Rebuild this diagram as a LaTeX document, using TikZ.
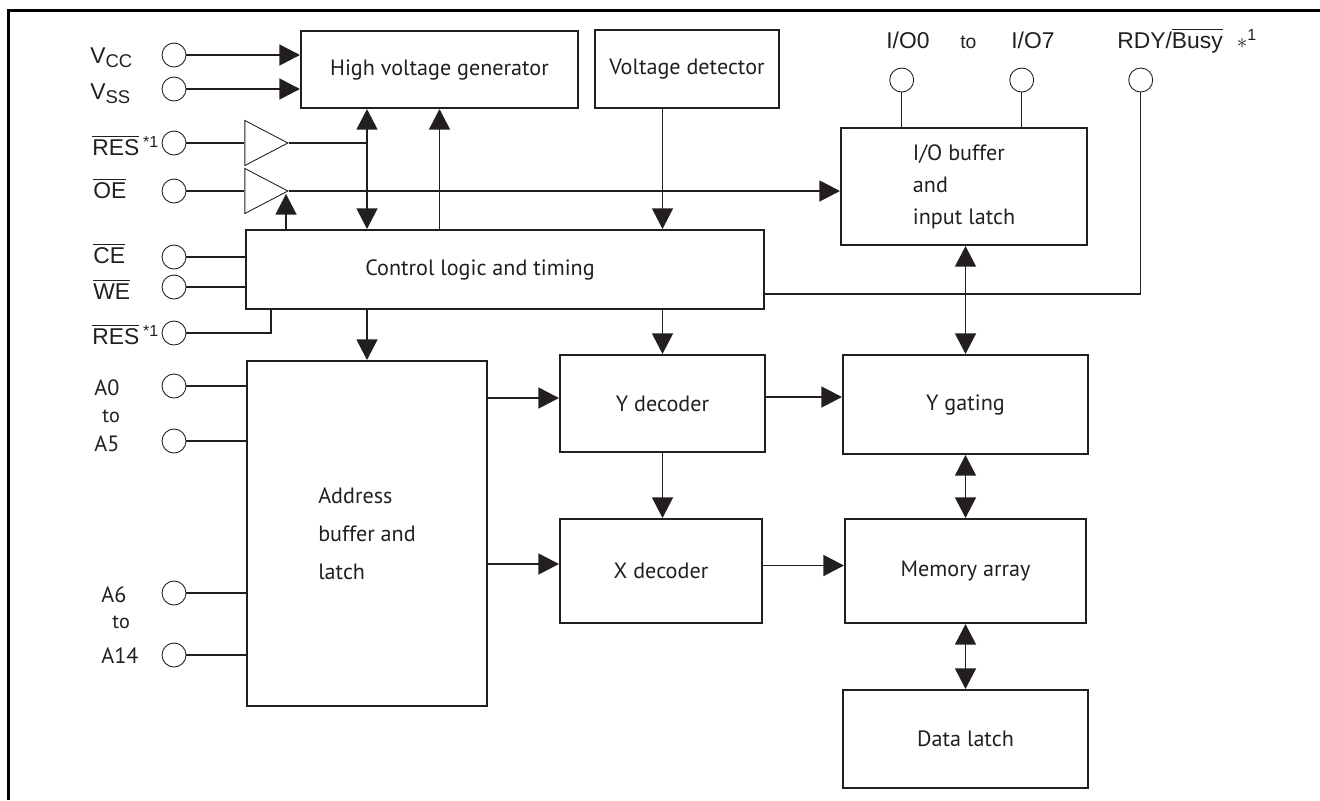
\documentclass[tikz,border=0pt]{standalone}
\usepackage{fontspec}
\setmainfont{PT Sans}
\newfontfamily\pinfont{Liberation Sans}
\usetikzlibrary{arrows.meta,shapes.geometric}
\definecolor{ink}{HTML}{231F20}
\newcommand{\barsig}[1]{$\overline{\mbox{#1}}$}
\newcommand{\lowsub}[1]{\raisebox{-2.8pt}{\fontsize{10.5}{12}\selectfont #1}}

\tikzset{
  blk/.style={draw=ink, line width=1.2pt, inner sep=0pt, text=ink,
    font=\fontsize{12.6}{15}\selectfont},
  pin/.style={draw=ink, circle, line width=0.5pt, minimum size=4.8mm, inner sep=0pt},
  buf/.style={draw=ink, isosceles triangle, isosceles triangle stretches,
    minimum width=9mm, minimum height=8.6mm, inner sep=0pt, line width=0.5pt},
  wire/.style={draw=ink, line width=0.7pt},
  pinlbl/.style={font=\pinfont\fontsize{13}{15}\selectfont, text=ink, inner sep=0pt},
  addrlbl/.style={font=\fontsize{12.6}{15}\selectfont, text=ink, inner sep=0pt},
}

\begin{document}
\begin{tikzpicture}[x=0.2mm, y=-0.2mm, >={Triangle[length=4.1mm,width=4.2mm]}]
  \useasboundingbox (0,0) rectangle (1320,800);
  \draw[line width=0.6mm] (1320,10) -- (8,10) -- (8,800);

  % blocks
  \node[blk, minimum width=55.4mm, minimum height=15.4mm] (hvg) at (439.5,69.5) {High voltage generator};
  \node[blk, minimum width=36.8mm, minimum height=15.6mm] (vdet) at (687,69) {Voltage detector};
  \node[blk, minimum width=49.2mm, minimum height=23.4mm, align=left,
    font=\fontsize{12.6}{18.2}\selectfont] (iobuf) at (964,186.5) {I/O buffer\\and\\input latch};
  \node[blk, minimum width=103.6mm, minimum height=15.8mm] (ctrl) at (505,269.5) {\hspace*{-10mm}Control logic and timing};
  \node[blk, minimum width=48mm, minimum height=69mm, align=left,
    font=\fontsize{12.6}{21.5}\selectfont] (addr) at (367,533.5) {Address\\buffer and\\latch};
  \node[blk, minimum width=41mm, minimum height=19.4mm] (ydec) at (662.5,403.5) {Y decoder};
  \node[blk, minimum width=40.4mm, minimum height=20.8mm] (xdec) at (661,571) {X decoder};
  \node[blk, minimum width=49mm, minimum height=19.8mm] (ygate) at (965.5,404.5) {Y gating};
  \node[blk, minimum width=48.2mm, minimum height=20.8mm] (marray) at (965.5,571) {Memory array};
  \node[blk, minimum width=49mm, minimum height=19.6mm] (dlatch) at (965.5,739) {Data latch};

  % buffers
  \node[buf, anchor=apex] (resbuf) at (289,143) {};
  \node[buf, anchor=apex] (oebuf) at (289,191) {};

  % pins
  \node[pin] (vcc) at (174,55) {};
  \node[pin] (vss) at (174,89) {};
  \node[pin] (resa) at (174,143) {};
  \node[pin] (oe) at (174,191) {};
  \node[pin] (ce) at (174,257) {};
  \node[pin] (we) at (174,287) {};
  \node[pin] (resb) at (174,333) {};
  \node[pin] (azero) at (174,386) {};
  \node[pin] (afive) at (174,441) {};
  \node[pin] (asix) at (174,593) {};
  \node[pin] (afourteen) at (174,655) {};
  \node[pin] (iozero) at (901.7,80) {};
  \node[pin] (ioseven) at (1021.7,80) {};
  \node[pin] (rdy) at (1140.7,80) {};

  % pin labels
  \node[pinlbl, anchor=base west] (lvcc) at (90,63) {V\lowsub{CC}};
  \node[pinlbl, anchor=base west] (lvss) at (90,99) {V\lowsub{SS}};
  \node[pinlbl, anchor=base west] (lresa) at (92,155) {\barsig{RES}\,\textsuperscript{*1}};
  \node[pinlbl, anchor=base west] (loe) at (93,198) {\barsig{OE}};
  \node[pinlbl, anchor=base west] (lce) at (93,263) {\barsig{CE}};
  \node[pinlbl, anchor=base west] (lwe) at (93,299) {\barsig{WE}};
  \node[pinlbl, anchor=base west] (lresb) at (92,344) {\barsig{RES}\,\textsuperscript{*1}};
  \node[addrlbl, anchor=base west] (lazero) at (94,395) {A0};
  \node[addrlbl, anchor=base west, font=\fontsize{11.5}{13}\selectfont] (latoa) at (102,422) {to};
  \node[addrlbl, anchor=base west] (lafive) at (94,451) {A5};
  \node[addrlbl, anchor=base west] (lasix) at (101,602) {A6};
  \node[addrlbl, anchor=base west, font=\fontsize{11.5}{13}\selectfont] (latob) at (112,628) {to};
  \node[addrlbl, anchor=base west] (lafourteen) at (101,663) {A14};
  \node[pinlbl, anchor=base west] (liozero) at (886,48) {I/O0};
  \node[pinlbl, anchor=base west, font=\pinfont\fontsize{11}{13}\selectfont] (lioto) at (960,48) {to};
  \node[pinlbl, anchor=base west] (lioseven) at (1011,48) {I/O7};
  \node[pinlbl, anchor=base west] (lrdy) at (1117,48) {RDY/\barsig{Busy}\hspace{8pt}$\ast$\textsuperscript{1}};

  % connections
  \draw[wire,->] (vcc) -- (vcc -| hvg.west);
  \draw[wire,->] (vss) -- (vss -| hvg.west);
  \draw[wire] (resa) -- (resa -| resbuf.west);
  \draw[wire] (oe) -- (oe -| oebuf.west);
  \draw[wire] (resbuf.apex) -- (resbuf.apex -| addr.north);
  \draw[wire,->] (oebuf.apex) -- (oebuf.apex -| iobuf.west);
  \draw[wire,<->] (addr.north |- hvg.south) -- (addr.north |- ctrl.north);
  \draw[wire,->] (hvg.south |- ctrl.north) -- (hvg.south);
  \draw[wire,->] (vdet.south -| ydec.north) -- (ydec.north |- ctrl.north);
  \draw[wire,->] ([xshift=-0.6mm]oebuf.apex |- ctrl.north) -- ([xshift=-0.6mm,yshift=-0.6mm]oebuf.apex);
  \draw[wire] (ce) -- (ce -| ctrl.west);
  \draw[wire] (we) -- (we -| ctrl.west);
  \draw[wire] (resb) -| ([xshift=5.2mm]ctrl.south west);
  \draw[wire,->] (addr.north |- ctrl.south) -- (addr.north);
  \draw[wire,->] (ydec.north |- ctrl.south) -- (ydec.north);
  \draw[wire] (rdy) |- ([yshift=-4.9mm]ctrl.east);
  \draw[wire] (iozero) -- (iozero |- iobuf.north);
  \draw[wire] (ioseven) -- (ioseven |- iobuf.north);
  \draw[wire] (azero) -- (azero -| addr.west);
  \draw[wire] (afive) -- (afive -| addr.west);
  \draw[wire] (asix) -- (asix -| addr.west);
  \draw[wire] (afourteen) -- (afourteen -| addr.west);
  \draw[wire,->] ([yshift=1.1mm]ydec.west -| addr.east) -- ([yshift=1.1mm]ydec.west);
  \draw[wire,->] ([yshift=1.4mm]xdec.west -| addr.east) -- ([yshift=1.4mm]xdec.west);
  \draw[wire,->] (ydec.south) -- (ydec.south |- xdec.north);
  \draw[wire,->] ([yshift=1.3mm]ydec.east) -- ([yshift=1.3mm]ydec.east -| ygate.west);
  \draw[wire,->] ([yshift=1.1mm]xdec.east) -- ([yshift=1.1mm]xdec.east -| marray.west);
  \draw[wire,<->] (iobuf.south -| ygate.north) -- (ygate.north);
  \draw[wire,<->] (ygate.south) -- (ygate.south |- marray.north);
  \draw[wire,<->] (marray.south) -- (marray.south |- dlatch.north);
\end{tikzpicture}
\end{document}
